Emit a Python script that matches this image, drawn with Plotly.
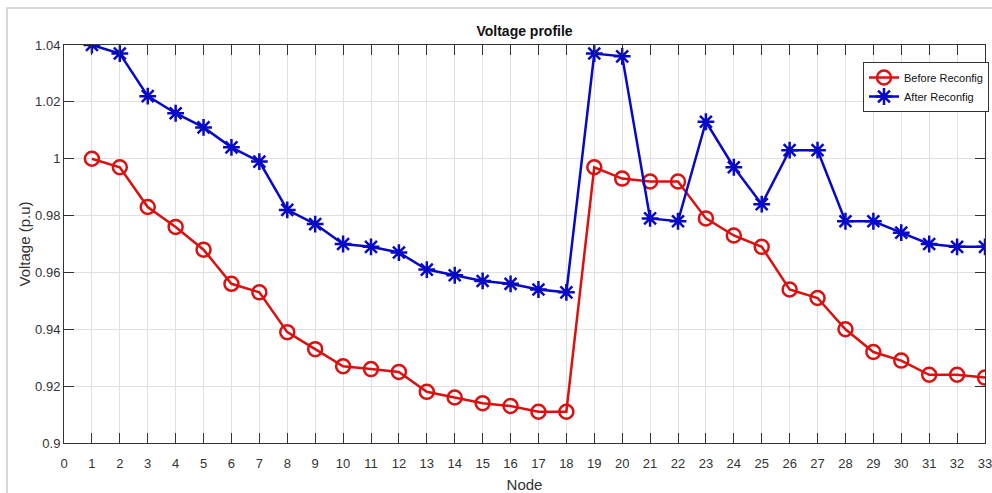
import plotly.graph_objects as go

nodes = list(range(1, 34))
before_reconfig = [1.000, 0.997, 0.983, 0.976, 0.968, 0.956, 0.953, 0.939, 0.933, 0.927,
                   0.926, 0.925, 0.918, 0.916, 0.914, 0.913, 0.911, 0.911, 0.997, 0.993,
                   0.992, 0.992, 0.979, 0.973, 0.969, 0.954, 0.951, 0.940, 0.932, 0.929,
                   0.924, 0.924, 0.923]
after_reconfig = [1.040, 1.037, 1.022, 1.016, 1.011, 1.004, 0.999, 0.982, 0.977, 0.970,
                  0.969, 0.967, 0.961, 0.959, 0.957, 0.956, 0.954, 0.953, 1.037, 1.036,
                  0.979, 0.978, 1.013, 0.997, 0.984, 1.003, 1.003, 0.978, 0.978, 0.974,
                  0.970, 0.969, 0.969]
y_tickvals = [0.9, 0.92, 0.94, 0.96, 0.98, 1.0, 1.02, 1.04]
y_ticktext = ["0.9", "0.92", "0.94", "0.96", "0.98", "1", "1.02", "1.04"]
x_tickvals = list(range(0, 34))

FONT = "Liberation Sans Narrow, Arial Narrow, Liberation Sans, Arial, sans-serif"
RED = "#dd1010"
BLUE = "#0808c8"

fig = go.Figure()
fig.add_trace(go.Scatter(
    x=nodes, y=before_reconfig, mode="lines+markers", name="Before Reconfig",
    line=dict(color=RED, width=2.5),
    marker=dict(symbol="circle-open", size=14, color=RED, line=dict(width=2.5, color=RED)),
))
fig.add_trace(go.Scatter(
    x=nodes, y=after_reconfig, mode="lines+markers", name="After Reconfig",
    line=dict(color=BLUE, width=2.5),
    marker=dict(symbol="asterisk-open", size=14, color=BLUE, line=dict(width=2.5, color=BLUE)),
))

axis_common = dict(
    showgrid=True, gridcolor="#e0e0e0", gridwidth=1,
    showline=True, linecolor="#333333", linewidth=1, mirror="ticks",
    ticks="inside", ticklen=10, tickcolor="#333333", tickwidth=1,
    zeroline=False, automargin=False, ticklabeloverflow="allow",
    tickfont=dict(family=FONT, size=13, color="#333333"),
)

fig.update_xaxes(range=[0, 33], tickvals=x_tickvals, ticklabelstandoff=8,
                 title=dict(text="Node", font=dict(family=FONT, size=15, color="#333333"), standoff=10),
                 **axis_common)
fig.update_yaxes(range=[0.9, 1.04], tickvals=y_tickvals, ticktext=y_ticktext,
                 title=dict(text="Voltage (p.u)", font=dict(family=FONT, size=15, color="#333333"), standoff=0),
                 **axis_common)

fig.update_layout(
    width=992, height=493,
    margin=dict(l=64, r=7, t=45, b=50, autoexpand=False),
    paper_bgcolor="white", plot_bgcolor="white",
    title=dict(text="<b>Voltage profile</b>", x=0.5288, xanchor="center", y=1 - 31 / 493, yanchor="middle",
               font=dict(family=FONT, size=14, color="#111111")),
    legend=dict(x=(863 - 64) / 921, y=(443 - 62) / 398, xanchor="left", yanchor="top",
                bgcolor="white", bordercolor="#333333", borderwidth=1,
                font=dict(family=FONT, size=11, color="#111111"),
                itemwidth=30, tracegroupgap=0),
    showlegend=True,
    shapes=[dict(type="rect", xref="paper", yref="paper",
                 x0=(7 - 64) / 921, x1=(1000 - 64) / 921,
                 y0=(443 - 500) / 398, y1=(443 - 8) / 398,
                 line=dict(color="#d8d8d8", width=2), layer="below")],
)

fig.write_html("out.html")
